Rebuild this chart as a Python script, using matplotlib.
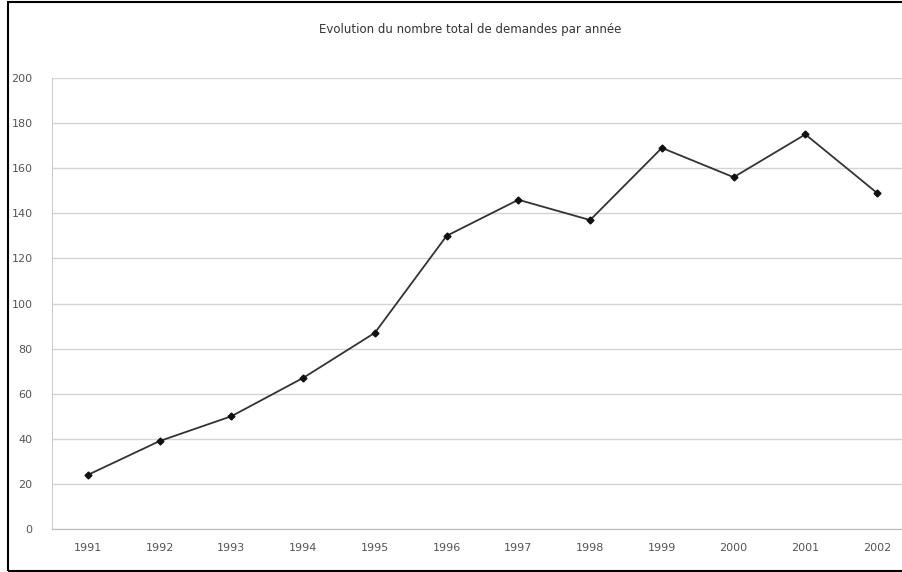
import numpy as np
import matplotlib.pyplot as plt
from matplotlib.patches import Rectangle

years = ["1991", "1992", "1993", "1994", "1995", "1996",
         "1997", "1998", "1999", "2000", "2001", "2002"]
demandes = [24, 39, 50, 67, 87, 130, 146, 137, 169, 156, 175, 149]
yticks = list(range(0, 201, 20))

W, H = 903, 572
fig = plt.figure(figsize=(W / 100, H / 100), dpi=100)

# cadre autour du graphique
fig.patches.append(Rectangle((8 / W, 1 / H), 1.0, (H - 3) / H, transform=fig.transFigure,
                             fill=False, edgecolor="black", linewidth=1.5))

ax = fig.add_axes([52 / W, (H - 529) / H, (W + 10 - 52) / W, (529 - 78) / H])
x = np.arange(len(years))
ax.plot(x, demandes, color="#333333", linewidth=1.3, marker="D", markersize=3.5,
        markerfacecolor="#111111", markeredgecolor="#111111")

ax.set_xlim(-0.5, 11.5)
ax.set_ylim(0, 200)
ax.set_yticks(yticks)
ax.set_yticklabels([str(v) for v in yticks], fontsize=8, color="#555555")
ax.set_xticks(x)
ax.set_xticklabels(years, fontsize=8, color="#555555")
ax.tick_params(axis="y", length=0, pad=14)
ax.tick_params(axis="x", length=0, pad=10)
ax.grid(axis="y", color="#d4d4d4", linewidth=1)
ax.set_axisbelow(True)
for s in ["top", "right"]:
    ax.spines[s].set_visible(False)
ax.spines["left"].set_color("#cccccc")
ax.spines["bottom"].set_color("#bbbbbb")
ax.spines["bottom"].set_linestyle((0, (2, 1)))

fig.text(470 / W, 1 - 30 / H, "Evolution du nombre total de demandes par année",
         ha="center", va="center", fontsize=8.5, color="#333333")

fig.savefig("out.png", dpi=100)
